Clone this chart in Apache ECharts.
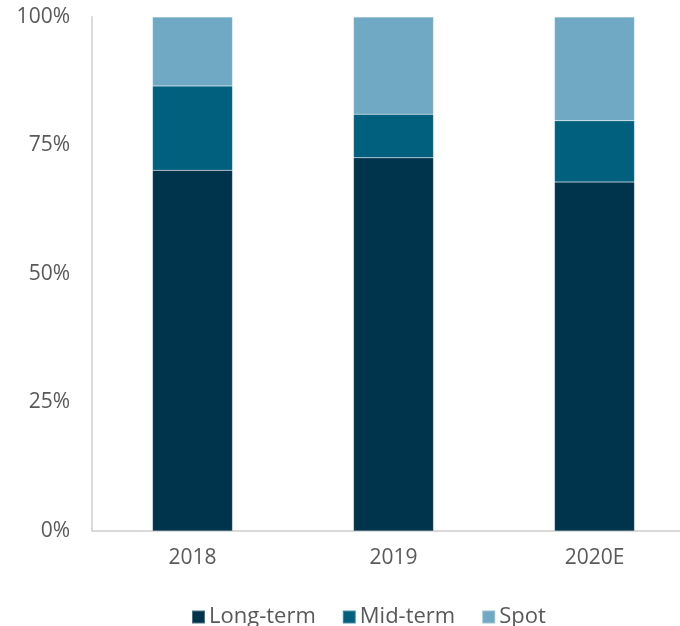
<!DOCTYPE html>
<html>
<head>
<meta charset="utf-8">
<script src="https://cdn.jsdelivr.net/npm/echarts@6/dist/echarts.min.js"></script>
<style>html,body{margin:0;padding:0;background:#fff;}#c{width:680px;height:626px;}</style>
</head>
<body>
<div id="c"></div>
<script>
const categories = ['2018', '2019', '2020E'];
const longTerm = [70.2, 72.6, 67.9];
const midTerm = [16.4, 8.5, 11.9];
const spot = [13.4, 18.9, 20.2];
const seriesNames = ['Long-term', 'Mid-term', 'Spot'];
const colors = ['#00344c', '#02607f', '#70a9c3'];

const chart = echarts.init(document.getElementById('c'));
const font = 'Open Sans, sans-serif';
const mk = (name, data, color) => ({
  name, type: 'bar', stack: 'total', data, barWidth: 80,
  itemStyle: { color, borderColor: 'rgba(255,255,255,0.3)', borderWidth: 0.5 }
});
chart.setOption({
  animation: false,
  grid: { left: 92, width: 603, top: 17, bottom: 95, outerBoundsMode: 'none', containLabel: false },
  xAxis: {
    type: 'category', data: categories,
    axisLine: { lineStyle: { color: '#d9d9d9', width: 2 } },
    axisTick: { show: false },
    axisLabel: { color: '#595959', fontSize: 21, fontFamily: font, margin: 17 }
  },
  yAxis: {
    type: 'value', min: 0, max: 100, interval: 25,
    axisLine: { show: true, lineStyle: { color: '#d9d9d9', width: 2 } },
    splitLine: { show: false },
    axisTick: { show: false },
    axisLabel: { color: '#595959', fontSize: 21, fontFamily: font, margin: 22, formatter: '{value}%' }
  },
  legend: {
    top: 601, left: 186, itemWidth: 13, itemHeight: 13, itemGap: 26,
    icon: 'rect',
    textStyle: { color: '#595959', fontSize: 22, fontFamily: font, padding: [0, 0, 0, -1] },
    data: seriesNames
  },
  series: [
    mk(seriesNames[0], longTerm, colors[0]),
    mk(seriesNames[1], midTerm, colors[1]),
    mk(seriesNames[2], spot, colors[2])
  ]
});
</script>
</body>
</html>
